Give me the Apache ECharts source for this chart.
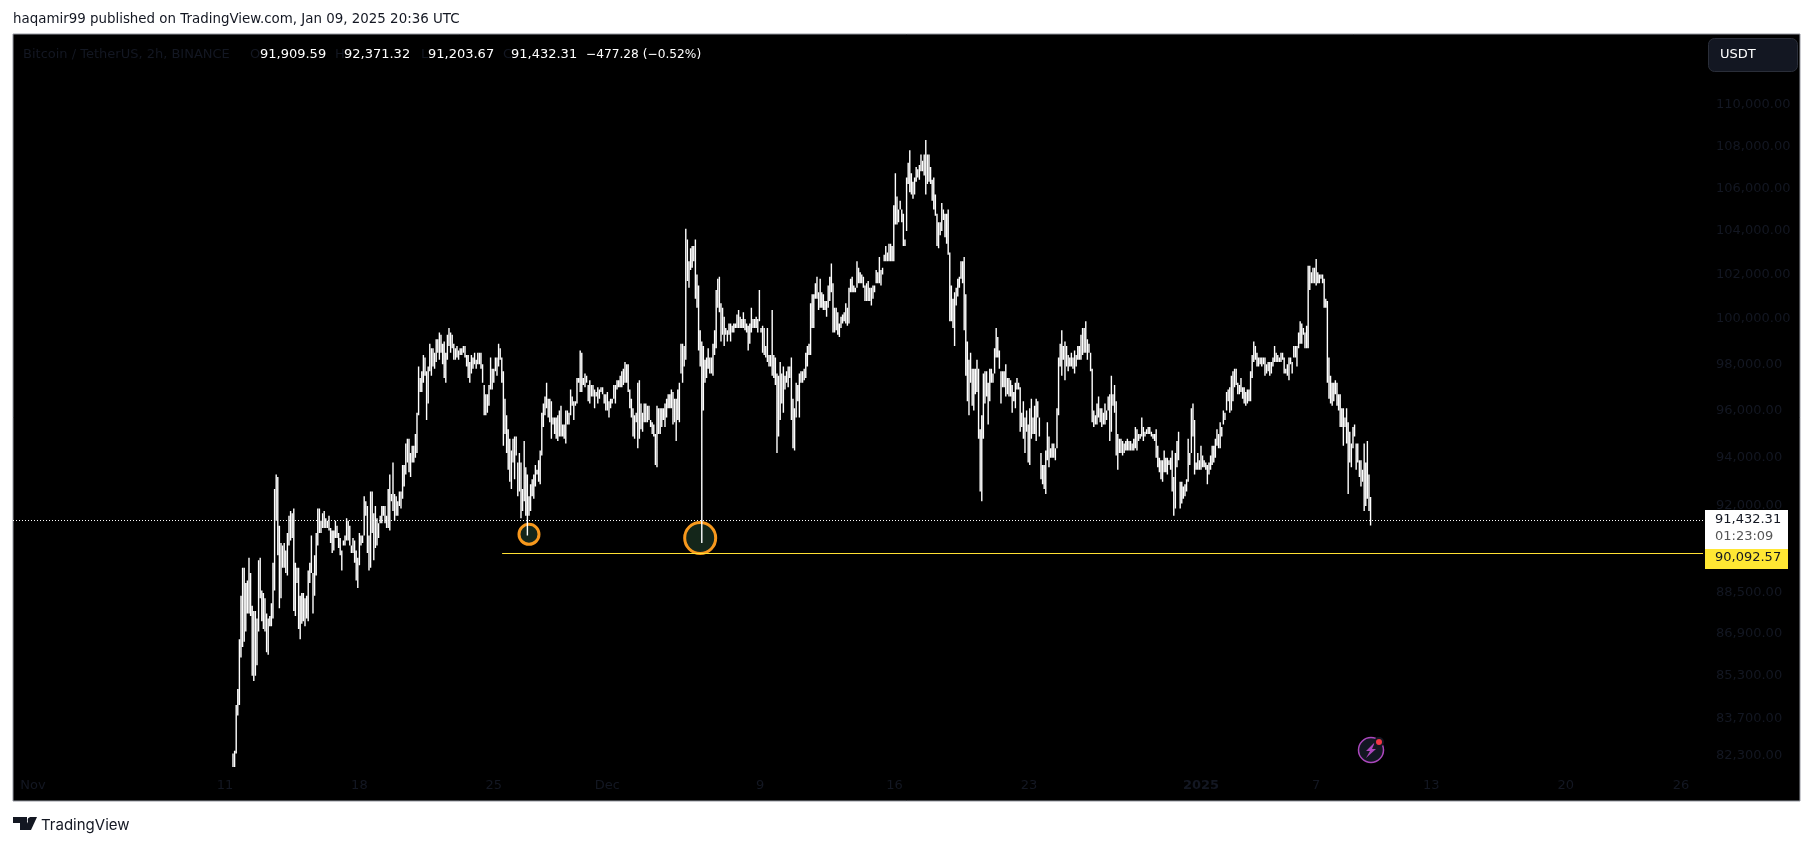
<!DOCTYPE html>
<html>

<head>
    <meta charset="utf-8">
    <title>BTCUSDT 2h</title>
    <script src="https://cdn.jsdelivr.net/npm/echarts@6/dist/echarts.min.js"></script>
    <style>
        html, body { margin: 0; padding: 0; background: #fff; }
        #main { width: 1814px; height: 846px; }
    </style>
</head>

<body>
    <div id="main"></div>
    <script>
        // 2h bars, in hundreds of USDT
        var firstBar = Date.UTC(2024, 10, 11, 14);
        var barStep = 2 * 3600 * 1000;

        var highs = [
            824,825,842,848,867,884,895,895,889,890,899,893,880,878,878,875,898,899,886,885,
            883,877,875,876,881,897,927,933,932,912,905,904,905,902,909,916,918,917,919,897,
            895,895,884,885,885,883,884,894,897,908,893,900,909,919,919,914,917,918,915,914,
            916,911,910,910,914,912,909,907,902,906,908,915,914,912,904,907,906,902,899,909,
            908,908,924,922,920,908,926,926,917,920,915,913,916,920,920,920,916,927,933,925,
            938,925,924,922,926,926,937,937,946,948,948,942,945,945,950,959,979,974,977,984,
            983,977,979,989,987,987,985,991,991,994,993,989,990,985,993,996,994,993,989,987,
            988,986,987,987,988,988,984,984,981,984,983,985,982,985,985,985,980,971,967,967,
            971,983,978,978,983,983,989,987,983,977,965,958,952,948,943,948,949,949,938,942,
            938,927,947,936,933,924,929,931,933,937,935,939,943,959,963,966,972,965,965,964,
            957,957,957,958,960,962,954,954,960,960,959,969,966,964,964,974,974,986,985,974,
            976,975,971,973,971,971,969,968,970,969,970,970,967,967,968,964,965,965,971,971,
            973,973,975,977,978,981,980,980,969,965,961,958,959,972,973,963,959,963,963,962,
            962,956,955,954,950,962,961,961,961,961,963,965,967,967,969,968,965,965,969,972,
            989,989,988,1041,1036,1026,1032,1033,1033,1036,1020,1015,995,990,988,982,983,987,983,983,
            989,995,1013,1018,1019,1007,1005,1001,996,995,998,998,997,998,998,1002,1004,1001,1000,1003,
            1000,998,997,998,1005,1000,1000,1001,1000,1013,996,997,996,988,996,984,984,1004,984,983,
            976,975,981,976,979,975,977,979,979,983,965,961,972,971,976,977,977,978,985,988,
            989,1007,1011,1011,1016,1019,1012,1018,1012,1011,1008,1008,1015,1019,1025,1016,1005,1005,1003,998,
            1001,1002,1003,1007,1005,1014,1018,1019,1015,1014,1026,1023,1021,1020,1019,1015,1016,1017,1014,1014,
            1015,1015,1022,1021,1028,1022,1023,1029,1033,1030,1034,1034,1033,1052,1067,1056,1050,1054,1050,1048,
            1036,1065,1072,1078,1067,1063,1065,1070,1069,1071,1076,1073,1076,1083,1076,1076,1070,1064,1065,1057,
            1048,1044,1044,1053,1050,1048,1048,1050,1030,1015,1009,1012,1014,1018,1019,1026,1026,1028,1011,990,
            982,985,978,978,978,982,978,952,958,976,977,977,972,978,978,976,987,996,992,986,
            977,977,977,980,974,974,973,971,968,972,974,972,970,959,964,957,960,954,961,965,
            957,962,965,964,957,942,937,937,943,955,949,944,946,946,944,961,983,989,995,988,
            990,988,984,983,985,983,986,984,988,988,993,996,996,999,991,989,985,978,960,958,
            963,966,961,961,959,963,960,966,967,975,967,971,964,950,948,948,947,946,947,948,
            947,947,946,948,953,952,950,950,957,953,951,952,953,953,951,950,950,952,945,940,
            939,939,943,940,940,939,940,943,932,942,947,951,930,930,928,929,931,948,942,961,
            963,956,938,942,939,945,941,939,938,937,938,941,945,945,948,952,950,955,953,960,
            959,968,969,970,975,977,978,978,972,971,974,970,970,968,969,969,977,984,990,988,
            985,983,983,983,983,983,980,981,981,981,983,988,985,984,983,985,985,983,978,980,
            983,983,981,988,988,988,994,999,998,996,994,997,1024,1024,1021,1023,1023,1027,1021,1020,
            1020,1020,1018,1009,1008,983,975,972,972,973,972,967,967,961,961,957,961,955,951,946,
            953,954,946,946,939,939,935,946,938,947,933,923.71
        ];

        var lows = [
            819,819,824,838,842,860,864,866,870,877,877,876,853,851,853,857,870,883,874,871,
            870,862,861,872,872,875,886,914,900,879,883,895,895,893,892,904,906,907,878,876,
            889,871,867,873,874,872,875,874,889,893,877,884,892,904,909,909,911,911,911,911,
            910,905,901,902,907,907,903,900,894,904,904,906,906,904,901,901,897,890,887,896,
            904,905,908,916,901,894,895,909,898,903,904,907,913,913,916,913,911,911,910,922,
            918,914,916,916,920,919,923,928,933,938,934,932,938,938,940,942,958,968,968,972,
            975,956,963,977,975,979,978,981,985,982,985,980,974,972,982,988,985,987,982,982,
            983,982,984,984,985,983,979,974,972,976,978,980,978,980,980,978,972,958,958,959,
            962,969,969,972,977,975,979,982,972,945,950,942,935,930,927,938,931,941,924,926,
            915,918,922,916,908,916,918,924,923,928,933,930,929,941,953,958,961,957,955,948,
            954,950,948,947,949,949,949,948,946,954,954,958,962,956,962,963,972,968,968,971,
            970,972,964,963,966,966,961,966,963,965,968,967,963,960,960,957,961,963,965,963,
            969,970,970,970,971,972,972,968,961,957,949,948,955,944,948,952,951,955,955,955,
            956,953,950,949,937,936,950,950,953,956,953,957,961,961,961,954,955,947,956,955,
            976,972,979,982,1017,1014,1022,1023,1026,1009,1005,986,979,905,960,972,974,978,976,976,
            975,984,987,1005,1003,990,993,988,993,990,993,990,994,994,996,996,996,996,996,996,
            995,994,986,989,994,996,996,996,994,999,994,985,984,983,981,979,979,975,974,971,
            942,949,956,963,959,969,972,970,974,956,944,943,957,964,957,972,972,973,974,979,
            984,984,996,996,1009,1009,1004,1005,1005,1004,1004,1001,1005,1008,1012,994,994,995,993,992,
            996,998,999,998,997,998,1012,1012,1012,1012,1014,1016,1016,1016,1014,1008,1008,1008,1008,1006,
            1009,1012,1016,1016,1016,1015,1020,1026,1026,1026,1026,1026,1026,1026,1043,1043,1044,1050,1044,1033,
            1033,1040,1062,1058,1057,1055,1057,1063,1065,1064,1068,1068,1066,1057,1062,1063,1062,1054,1050,1047,
            1033,1032,1038,1040,1045,1037,1034,1029,999,999,996,988,1006,1010,1014,1018,1016,995,975,964,
            958,972,962,960,967,968,948,926,922,948,963,966,954,964,972,972,976,983,983,978,
            963,970,970,966,967,966,966,959,964,961,969,969,951,953,948,942,951,938,937,948,
            950,950,947,957,949,931,929,927,925,939,936,940,940,940,939,944,958,979,975,982,
            973,979,977,979,979,978,976,979,982,982,982,984,985,985,982,985,977,955,953,954,
            954,957,955,953,954,954,956,960,947,951,962,959,941,935,942,942,941,942,943,943,
            943,943,943,943,944,943,947,948,949,947,949,950,950,950,949,948,947,940,936,934,
            931,930,934,934,933,937,935,926,916,919,936,939,919,921,923,924,926,930,937,942,
            949,933,935,935,935,935,936,936,935,929,933,935,937,938,940,945,944,944,949,954,
            956,960,964,959,960,964,970,971,967,967,968,965,963,962,963,964,964,974,981,982,
            979,979,980,979,980,975,976,977,975,976,979,981,981,981,981,981,982,976,976,975,
            973,980,976,983,983,979,987,989,989,993,987,987,987,1013,1016,1016,1016,1015,1016,1016,
            1018,1016,1005,1005,972,965,963,962,964,967,962,960,953,953,945,953,946,925,938,936,
            944,949,935,938,932,928,930,918,920,923,918,912.03
        ];

        var closes = [
            820,824,840,845,865,879,890,870,885,886,885,880,860,858,872,866,890,890,880,876,
            878,868,870,874,878,892,925,925,915,890,900,898,900,897,905,912,908,915,890,885,
            892,880,876,878,880,876,880,890,895,900,885,896,906,915,912,912,915,914,912,912,
            911,908,905,908,910,908,904,903,898,905,906,912,908,905,902,904,900,895,890,905,
            906,907,915,918,905,900,920,915,905,910,908,911,915,917,918,915,913,925,925,923,
            930,918,920,918,925,922,930,935,940,940,938,935,942,940,948,955,975,970,972,980,
            978,965,975,985,980,983,981,988,987,990,988,985,978,982,990,992,987,990,984,985,
            986,984,986,985,986,985,981,977,974,980,981,982,980,983,982,980,975,965,962,964,
            968,980,975,975,980,978,985,984,976,955,955,948,945,935,935,942,942,945,930,930,
            925,922,925,920,918,920,924,926,928,930,934,935,938,955,958,960,965,960,960,955,
            955,952,950,955,952,952,951,950,957,957,956,965,963,960,963,970,973,980,975,972,
            973,973,967,970,968,970,965,967,966,967,969,968,964,962,965,960,963,964,968,966,
            970,971,972,975,973,976,975,970,965,960,955,952,957,960,955,958,955,960,957,960,
            958,955,952,950,942,945,956,955,957,958,960,962,964,965,966,958,960,955,965,968,
            985,978,982,1030,1022,1020,1028,1030,1030,1015,1008,992,985,975,970,975,980,982,978,980,
            985,992,1008,1010,1008,995,998,992,994,992,995,996,995,996,997,1000,998,998,999,1000,
            997,995,990,995,1002,997,998,1000,998,1002,995,990,993,985,985,982,980,985,978,975,
            960,955,965,970,968,972,975,972,976,965,955,950,965,968,972,975,974,976,980,985,
            987,1000,1005,1008,1012,1014,1008,1010,1008,1006,1005,1004,1012,1015,1018,1000,998,1000,996,995,
            999,1000,1001,1003,1002,1010,1015,1016,1014,1013,1022,1020,1018,1018,1016,1010,1012,1010,1010,1008,
            1012,1014,1020,1018,1025,1018,1022,1027,1030,1028,1032,1030,1028,1045,1050,1048,1047,1052,1046,1037,
            1034,1060,1065,1062,1059,1058,1062,1068,1066,1070,1072,1070,1074,1065,1072,1070,1064,1056,1055,1050,
            1040,1036,1040,1048,1046,1042,1040,1032,1005,1002,1000,995,1010,1015,1016,1022,1020,1000,985,975,
            965,978,968,970,972,975,955,932,940,965,970,968,960,972,974,973,985,988,985,980,
            968,972,974,970,970,970,968,963,965,968,972,970,955,955,952,946,955,945,942,958,
            953,958,960,960,952,935,932,930,935,948,942,942,942,943,941,955,978,985,985,985,
            980,982,980,981,982,980,982,981,985,986,990,986,990,992,985,987,980,960,955,956,
            960,962,958,955,956,960,958,964,955,965,964,965,945,940,944,945,943,944,945,946,
            945,945,944,946,950,948,949,949,952,950,950,951,951,952,950,949,948,942,938,936,
            934,933,938,937,935,938,937,928,920,935,942,945,925,925,925,927,930,945,940,955,
            955,940,936,938,937,940,938,937,936,932,936,939,942,943,946,948,947,952,951,958,
            957,966,966,962,972,975,975,973,968,969,970,967,965,964,966,968,975,982,985,984,
            982,980,981,980,982,978,978,979,977,978,981,985,983,982,982,984,983,978,977,977,
            980,982,980,986,985,982,992,996,992,994,990,992,1020,1018,1018,1020,1018,1020,1018,1017,
            1019,1017,1008,1006,980,972,968,966,968,970,965,962,958,956,948,955,950,935,942,938,
            948,952,938,940,935,932,932,925,928,935,919.1,914.32
        ];

        var lastPrice = 91432.31;
        var levelPrice = 90092.57;
        var priceTicks = [110000, 108000, 106000, 104000, 102000, 100000, 98000, 96000, 94000, 92000, 88500, 86900, 85300, 83700, 82300];
        // label centres as drawn sit a few hours right of midnight on the left part of the axis
        var dateTicks = [
            [Date.UTC(2024, 10, 1, 4), 'Nov'], [Date.UTC(2024, 10, 11, 4), '11'], [Date.UTC(2024, 10, 18, 4), '18'],
            [Date.UTC(2024, 10, 25, 4), '25'], [Date.UTC(2024, 11, 1, 2), 'Dec'], [Date.UTC(2024, 11, 9, 1), '9'],
            [Date.UTC(2024, 11, 16, 1), '16'], [Date.UTC(2024, 11, 23, 1), '23'], [Date.UTC(2025, 0, 1), '2025'],
            [Date.UTC(2025, 0, 7), '7'], [Date.UTC(2025, 0, 13), '13'], [Date.UTC(2025, 0, 20), '20'],
            [Date.UTC(2025, 0, 26), '26']
        ];
        // the two circled wicks: time, price, size
        var circles = [
            [Date.UTC(2024, 10, 27), 90850, 20],
            [Date.UTC(2024, 11, 5, 22), 90700, 31]
        ];

        var candles = [];
        for (var i = 0; i < closes.length; i++) {
            var h = highs[i] * 100, l = lows[i] * 100, c = closes[i] * 100;
            var o = i > 0 ? closes[i - 1] * 100 : c;
            o = Math.min(h, Math.max(l, o));
            candles.push([firstBar + i * barStep, o, c, l, h]);
        }

        var font = '13px "DejaVu Sans"';
        var darkText = '#131722';

        function txt(x, y, s, fill, f) {
            return {
                type: 'text', z: 100, silent: true,
                style: { x: x, y: y, text: s, fill: fill, font: f || font, textVerticalAlign: 'middle' }
            };
        }

        var myChart = echarts.init(document.getElementById('main'));
        var option = {
            animation: false,
            backgroundColor: '#fff',
            grid: { left: 13, right: 14, top: 34, bottom: 45, show: true, backgroundColor: '#000', borderColor: '#9598a1', borderWidth: 1 },
            xAxis: {
                type: 'value',
                scale: true,
                min: Date.UTC(2024, 9, 31, 3),
                max: Date.UTC(2025, 1, 1, 4, 48),
                axisLine: { show: false },
                axisTick: { show: false },
                splitLine: { show: false },
                axisLabel: {
                    inside: true,
                    margin: 9,
                    color: darkText,
                    fontFamily: 'DejaVu Sans',
                    fontSize: 13,
                    customValues: dateTicks.map(function(d) { return d[0]; }),
                    formatter: function(v) {
                        for (var k = 0; k < dateTicks.length; k++) {
                            if (dateTicks[k][0] === v) return dateTicks[k][1] === '2025' ? '{b|2025}' : dateTicks[k][1];
                        }
                        return '';
                    },
                    rich: { b: { color: darkText, fontFamily: 'DejaVu Sans', fontSize: 13, fontWeight: 'bold' } }
                }
            },
            yAxis: {
                type: 'log',
                position: 'right',
                min: 80670,
                max: 113535,
                axisLine: { show: false },
                axisTick: { show: false },
                splitLine: { show: false },
                axisLabel: {
                    inside: true,
                    margin: 84,
                    align: 'left',
                    color: darkText,
                    fontFamily: 'DejaVu Sans',
                    fontSize: 13,
                    customValues: priceTicks,
                    formatter: function(v) {
                        return Number(v).toLocaleString('en-US', { minimumFractionDigits: 2, maximumFractionDigits: 2 });
                    }
                }
            },
            series: [{
                type: 'scatter',
                z: 1,
                silent: true,
                data: circles,
                symbolSize: function(d) { return d[2]; },
                itemStyle: { color: '#14261a', borderColor: '#f7981d', borderWidth: 3, opacity: 1 }
            }, {
                type: 'candlestick',
                layout: 'horizontal',
                z: 3,
                silent: true,
                barWidth: 2,
                encode: { x: 0, y: [1, 2, 3, 4] },
                data: candles,
                itemStyle: {
                    color: '#fff', color0: '#fff', borderColor: '#fff', borderColor0: '#fff', borderColorDoji: '#fff', borderWidth: 1.4
                },
                markLine: {
                    silent: true,
                    symbol: 'none',
                    animation: false,
                    label: { show: false },
                    data: [
                        [{ coord: [Date.UTC(2024, 9, 31, 3), lastPrice], lineStyle: { color: '#fff', type: [1, 2], width: 1 } },
                            { coord: [Date.UTC(2025, 0, 27, 3, 36), lastPrice] }],
                        [{ coord: [Date.UTC(2024, 10, 25, 14, 24), levelPrice], lineStyle: { color: '#ffe033', type: 'solid', width: 1.2 } },
                            { coord: [Date.UTC(2025, 0, 27, 3, 36), levelPrice] }]
                    ]
                }
            }],
            graphic: [
                txt(13, 20, 'haqamir99 published on TradingView.com, Jan 09, 2025 20:36 UTC', '#131722', '13.4px "DejaVu Sans"'),
                txt(23, 55, 'Bitcoin / TetherUS, 2h, BINANCE', darkText),
                txt(250, 55, 'O', darkText), txt(260, 55, '91,909.59', '#fff'),
                txt(335, 55, 'H', darkText), txt(344, 55, '92,371.32', '#fff'),
                txt(421, 55, 'L', darkText), txt(428, 55, '91,203.67', '#fff'),
                txt(503, 55, 'C', darkText), txt(511, 55, '91,432.31', '#fff'),
                txt(586, 55, '\u2212477.28 (\u22120.52%)', '#fff', '12.2px "DejaVu Sans"'),
                { type: 'rect', z: 99, silent: true, shape: { x: 1708.5, y: 38.5, width: 89, height: 33, r: 6 }, style: { fill: '#131722', stroke: '#2a2e39', lineWidth: 1 } },
                txt(1720, 55, 'USDT', '#fff'),
                { type: 'rect', z: 99, silent: true, shape: { x: 1705, y: 510, width: 83, height: 39 }, style: { fill: '#fff' } },
                txt(1715, 520, '91,432.31', '#131722'),
                txt(1715, 537, '01:23:09', '#555'),
                { type: 'rect', z: 99, silent: true, shape: { x: 1705, y: 549, width: 83, height: 20 }, style: { fill: '#ffe733' } },
                txt(1715, 558, '90,092.57', '#131722'),
                // alert badge
                { type: 'circle', z: 99, silent: true, shape: { cx: 1371, cy: 750, r: 12.5 }, style: { fill: '#131722', stroke: '#ab47bc', lineWidth: 1.5 } },
                { type: 'polygon', z: 100, silent: true, shape: { points: [[1375, 742], [1366, 751], [1370, 751], [1366, 758], [1376, 749], [1372, 749]] }, style: { fill: '#ab47bc' } },
                { type: 'circle', z: 100, silent: true, shape: { cx: 1379, cy: 742, r: 5 }, style: { fill: '#131722' } },
                { type: 'circle', z: 101, silent: true, shape: { cx: 1379, cy: 742, r: 3 }, style: { fill: '#f23645' } },
                // logo
                { type: 'polygon', silent: true, shape: { points: [[13, 817], [27, 817], [27, 830], [20, 830], [20, 823], [13, 823]] }, style: { fill: '#131722' } },
                { type: 'circle', silent: true, shape: { cx: 30.5, cy: 820, r: 2.8 }, style: { fill: '#131722' } },
                { type: 'polygon', silent: true, shape: { points: [[31, 830], [37, 817], [30, 817], [24, 830]] }, style: { fill: '#131722' } },
                txt(41, 825, 'TradingView', '#131722', '15px "Inter"')
            ]
        };
        myChart.setOption(option);
    </script>
</body>

</html>
